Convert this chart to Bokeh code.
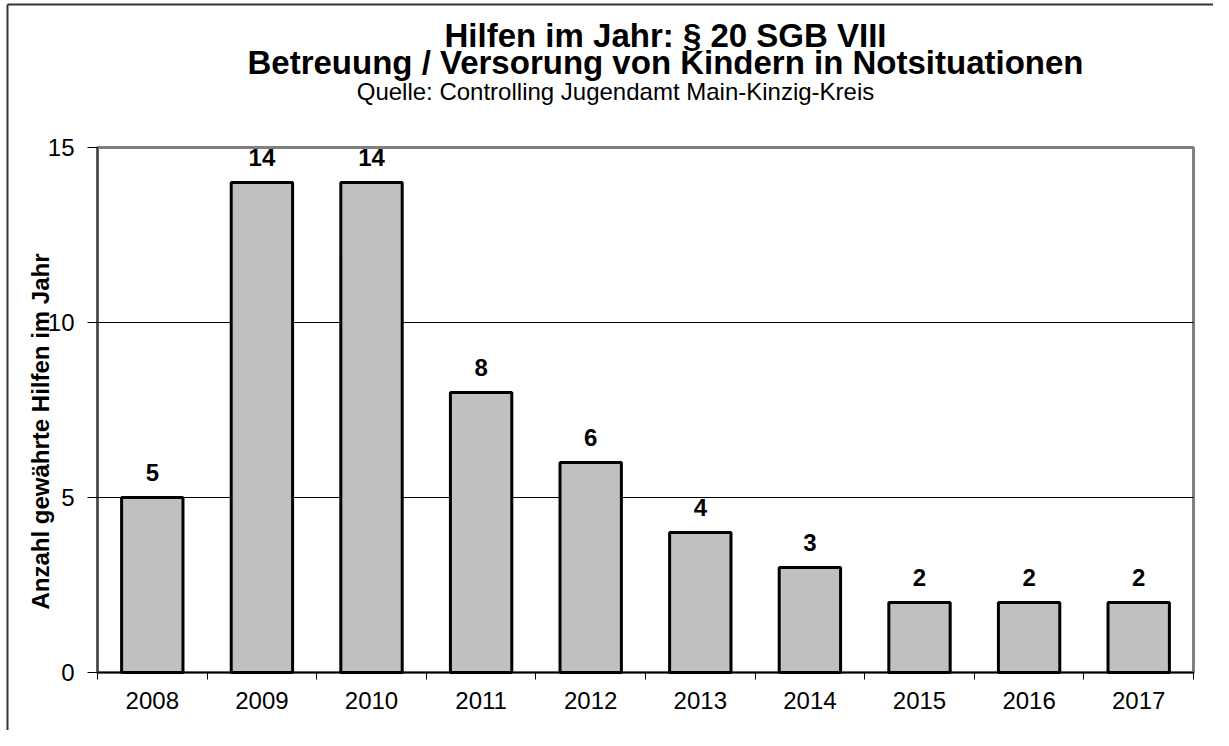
import numpy as np
from bokeh.plotting import figure
from bokeh.models import (Range1d, LinearAxis, FixedTicker, ColumnDataSource,
                          LabelSet, Label, BoxAnnotation)
from bokeh.core.properties import value
from bokeh.embed import file_html
from bokeh.resources import INLINE

years = ["2008", "2009", "2010", "2011", "2012", "2013", "2014", "2015", "2016", "2017"]
values = [5, 14, 14, 8, 6, 4, 3, 2, 2, 2]
y_ticks = [0, 5, 10, 15]
y_max = 15
title_lines = ["Hilfen im Jahr: § 20 SGB VIII",
               "Betreuung / Versorung von Kindern in Notsituationen"]
subtitle = "Quelle: Controlling Jugendamt Main-Kinzig-Kreis"
y_label = "Anzahl gewährte Hilfen im Jahr"

FONT = "Liberation Sans"
n = len(years)
xc = np.arange(n) + 0.5

# canvas layout (pixels): plot area 97..1193 x 147..672
W, H = 1213, 730
FL, FR, FT, FB = 97, 1193, 147, 672
px_x = (FR - FL) / n
px_y = (FB - FT) / y_max
def dx(sx):
    return (sx - FL) / px_x
def dy(sy):
    return (FB - sy) / px_y

src = ColumnDataSource(dict(x=xc, top=values, lab=[str(v) for v in values]))
inner = [t for t in y_ticks if 0 < t < y_max]
grid_src = ColumnDataSource(dict(x0=[0] * len(inner), x1=[n] * len(inner), y=inner))

p = figure(width=W, height=H, x_range=Range1d(dx(0), dx(W)), y_range=Range1d(dy(H), dy(0)),
           output_backend="svg", toolbar_location=None,
           x_axis_type=None, y_axis_type=None,
           min_border_left=0, min_border_right=0, min_border_top=0, min_border_bottom=0)
p.outline_line_color = None
p.background_fill_color = "white"
p.border_fill_color = "white"

# outer chart-area border (only top and left edges are inside the picture)
frame_src = ColumnDataSource(dict(x0=[dx(7), dx(7)], y0=[dy(4), dy(4)],
                                  x1=[dx(W + 50), dx(7)], y1=[dy(4), dy(H + 50)]))
p.segment(x0="x0", y0="y0", x1="x1", y1="y1", source=frame_src,
          line_color="#333333", line_width=2)

# plot-area border
p.add_layout(BoxAnnotation(left=0, right=n, bottom=0, top=y_max, fill_alpha=0,
                           line_color="#808080", line_alpha=1, line_width=3,
                           level="underlay"))

# horizontal gridlines inside the plot area
p.segment(x0="x0", x1="x1", y0="y", y1="y", source=grid_src,
          line_color="black", line_width=1)

# y axis
yax = LinearAxis(ticker=FixedTicker(ticks=y_ticks), fixed_location=0, bounds=(0, y_max),
                 major_tick_out=10, major_tick_in=0,
                 minor_tick_line_color=None, axis_line_color="#404040", axis_line_width=2,
                 major_tick_line_color="black", major_tick_line_width=1,
                 major_label_text_font=FONT, major_label_text_font_size="24px",
                 major_label_text_color="black", major_label_standoff=13)
p.add_layout(yax, "left")

# x axis: labels at category centres, ticks (minor) at category boundaries
xax = LinearAxis(ticker=FixedTicker(ticks=list(xc), minor_ticks=list(range(n + 1))),
                 fixed_location=0, bounds=(0, n),
                 major_label_overrides={float(x): y for x, y in zip(xc, years)},
                 axis_line_color="black", axis_line_width=1.5,
                 major_tick_line_color=None,
                 minor_tick_line_color="black", minor_tick_out=7, minor_tick_in=0,
                 major_label_text_font=FONT, major_label_text_font_size="24px",
                 major_label_text_color="black", major_label_standoff=12)
p.add_layout(xax, "below")

p.vbar(x="x", top="top", width=0.56, source=src, fill_color="#C0C0C0",
       line_color="black", line_width=3)

p.add_layout(LabelSet(x="x", y="top", text="lab", source=src, y_offset=17,
                      text_align="center", text_baseline="alphabetic",
                      text_font=value(FONT), text_font_style="bold",
                      text_font_size="24px", text_color="black"))

# titles
p.add_layout(Label(x=dx(665), y=dy(35), text=title_lines[0], text_align="center",
                   text_baseline="alphabetic", text_font=FONT, text_font_style="bold",
                   text_font_size="33px", text_color="black"))
p.add_layout(Label(x=dx(665), y=dy(62), text=title_lines[1], text_align="center",
                   text_baseline="alphabetic", text_font=FONT, text_font_style="bold",
                   text_font_size="33px", text_color="black"))
p.add_layout(Label(x=dx(615), y=dy(91), text=subtitle, text_align="center",
                   text_baseline="alphabetic", text_font=FONT,
                   text_font_size="24px", text_color="black"))

p.add_layout(Label(x=dx(40), y=dy(431), text=y_label, angle=np.pi / 2, text_align="center",
                   text_baseline="middle", text_font=FONT, text_font_style="bold",
                   text_font_size="24px", text_color="black"))

open("out.html", "w").write(file_html(p, INLINE))
